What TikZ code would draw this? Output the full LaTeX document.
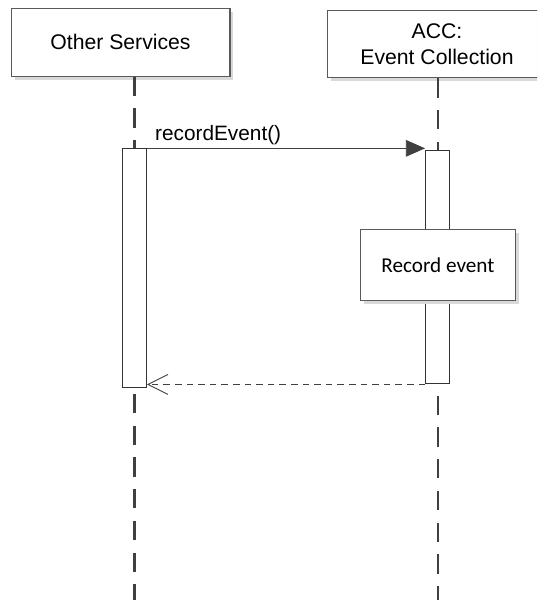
\documentclass[tikz,border=0pt]{standalone}
\usepackage{fontspec}
\setmainfont{Liberation Sans}
\newfontfamily\calibrifont{Carlito}
\usetikzlibrary{arrows.meta,shadows}
\definecolor{lifegray}{HTML}{404040}
\definecolor{boxgray}{HTML}{595959}

\begin{document}
\begin{tikzpicture}[x=0.75pt, y=-0.75pt, line join=miter,
  boxshadow/.style={drop shadow={shadow xshift=2.6pt, shadow yshift=-2.6pt, fill=black!15, opacity=1}},
  actor/.style={draw=boxgray, line width=0.8pt, fill=white, inner sep=0pt, align=center,
    minimum width=164.2pt, minimum height=50.8pt, font=\fontsize{15.9}{19.3}\selectfont, boxshadow},
  activation/.style={draw=black!80, line width=0.8pt, fill=white, inner sep=0pt, minimum width=17.9pt},
  lifeline/.style={draw=lifegray, line width=1.7pt, dash pattern=on 14.5pt off 9.3pt},
  callmsg/.style={draw=lifegray, line width=0.7pt, -{Triangle[length=14.5pt, width=12.5pt, fill=lifegray]}},
  replymsg/.style={draw=lifegray, line width=0.7pt, dash pattern=on 4.9pt off 3.8pt,
    -{Straight Barb[length=15pt, width=15pt, line width=0.7pt]}}]
  \clip (0,0) rectangle (537,600);
  \fill[white] (0,0) rectangle (537,600);

  % Participants
  \node[actor] (other) at (120.5,42.2) {Other Services};
  \node[actor] (acc) at (437,43.9) {ACC:\\Event Collection};

  % Lifelines (drawn first, activations sit on top)
  \coordinate (otherend) at (134.6,600);
  \coordinate (accend) at (437.7,600);
  \draw[lifeline] (otherend |- other.south) -- (otherend);
  \draw[lifeline] (accend |- acc.south) -- (accend);

  % Activation bars
  \node[activation, minimum height=179.3pt] (otheract) at (134.5,268.4) {};
  \node[activation, minimum height=174.9pt] (accact) at (437.6,267.3) {};

  % Internal step on the collector
  \node[draw=boxgray, line width=0.8pt, fill=white, inner sep=0pt, boxshadow,
    minimum width=116.8pt, minimum height=53.8pt, font=\calibrifont\fontsize{15.9}{19.3}\selectfont]
    (record) at (437.9,264.9) {Record event};

  % Call and reply
  \draw[callmsg] (otheract.north east) -- (otheract.north east -| accact.west)
    node[pos=0, anchor=base west, xshift=5.8pt, yshift=6pt, inner sep=0pt,
      font=\fontsize{15.6}{19}\selectfont] {recordEvent()};
  \draw[replymsg] (accact.south west) -- (accact.south west -| otheract.east);
\end{tikzpicture}
\end{document}
